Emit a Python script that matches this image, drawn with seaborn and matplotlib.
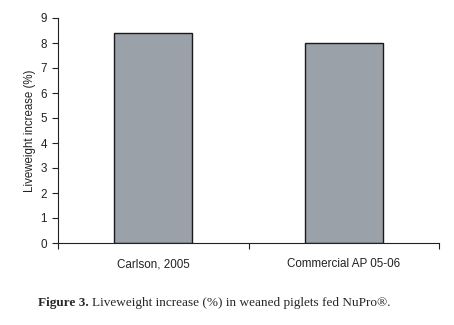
import matplotlib
matplotlib.use("Agg")
import matplotlib.pyplot as plt
import seaborn as sns
import pandas as pd
from matplotlib.ticker import FixedLocator, NullFormatter

categories = ["Carlson, 2005", "Commercial AP 05-06"]
values = [8.4, 8.0]
y_ticks = list(range(0, 10))
y_label = "Liveweight increase (%)"

sns.set_theme(style="white")
plt.rcParams['font.family'] = ['Liberation Sans', 'DejaVu Sans']

df = pd.DataFrame({"cat": categories, "val": values})

fig = plt.figure(figsize=(4.54, 3.25), dpi=100)
ax = fig.add_axes([58/454, 82/325, 381/454, 225/325])
sns.barplot(data=df, x="cat", y="val", ax=ax, color="#9aa1a8", saturation=1,
            width=0.41, edgecolor="#1a1a1a", linewidth=1.0)

ax.set_xlim(-0.5, 1.5)
ax.set_ylim(0, 9)
ax.set_yticks(y_ticks)
ax.set_yticklabels([str(t) for t in y_ticks])
ax.set_xlabel("")
ax.set_ylabel(y_label, fontsize=8.3, color="#222222", labelpad=3)

ax.xaxis.set_major_locator(FixedLocator([-0.5, 0.5, 1.5]))
ax.xaxis.set_major_formatter(NullFormatter())
ax.xaxis.set_minor_locator(FixedLocator([0, 1]))
ax.set_xticklabels(categories, minor=True)
ax.tick_params(axis="x", which="major", bottom=True, length=4, width=0.8, color="#222222")
ax.tick_params(axis="x", which="minor", bottom=True, length=0, labelsize=8.4, pad=11, labelcolor="#222222")
ax.tick_params(axis="y", left=True, length=4, width=0.8, color="#222222", labelsize=8.4, pad=4, labelcolor="#222222")

for s in ["top", "right"]:
    ax.spines[s].set_visible(False)
for s in ["left", "bottom"]:
    ax.spines[s].set_color("#222222")
    ax.spines[s].set_linewidth(0.8)

t1 = fig.text(38/454, 1 - 303/325, "Figure 3.", fontsize=9.5, fontweight="bold",
              va="center", ha="left", family="Liberation Serif")
fig.canvas.draw()
bb = t1.get_window_extent()
fig.text((bb.x1 + 3) / 454, 1 - 303/325, "Liveweight increase (%) in weaned piglets fed NuPro\u00ae.",
         fontsize=9.5, va="center", ha="left", family="Liberation Serif")

fig.savefig("out.png", dpi=100)
